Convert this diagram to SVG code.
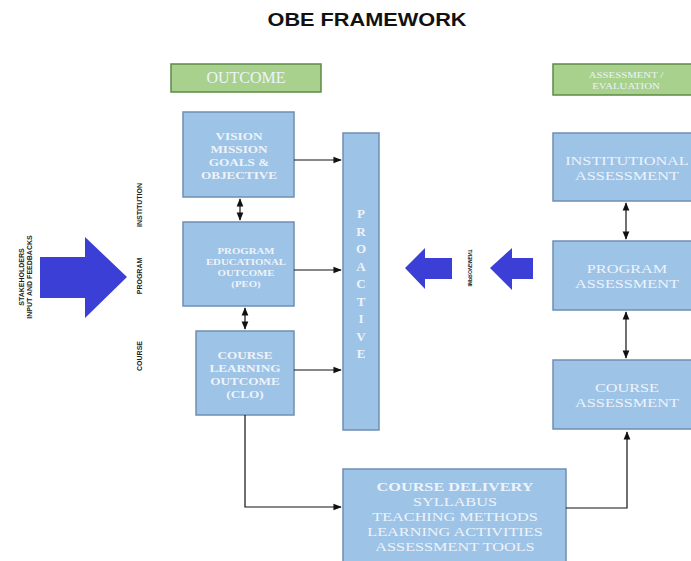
<svg xmlns="http://www.w3.org/2000/svg" width="691" height="561" viewBox="0 0 691 561">
<defs>
<style>
.box{fill:#9dc3e6;stroke:#6f8fb2;stroke-width:1.5}
.gbox{fill:#a9d18e;stroke:#5f8a45;stroke-width:1.5}
.t{font-family:"Liberation Serif",serif;fill:#eef3fa;text-anchor:middle}
.b{font-weight:bold}
.lbl{font-family:"Liberation Sans",sans-serif;font-weight:bold;fill:#222;text-anchor:middle}
.big{fill:#3b3fd6}
.c{fill:none;stroke:#111;stroke-width:1.2}
</style>
<marker id="ah" viewBox="0 0 10 10" refX="9" refY="5" markerWidth="7" markerHeight="7" orient="auto-start-reverse">
<path d="M0,1 L10,5 L0,9 z" fill="#111"/>
</marker>
</defs>
<rect width="691" height="561" fill="#fff"/>
<text x="367" y="26" font-family="Liberation Sans,sans-serif" font-weight="bold" font-size="19" text-anchor="middle" textLength="199" lengthAdjust="spacingAndGlyphs" fill="#111">OBE FRAMEWORK</text>

<g id="stakeholders">
<path class="big" d="M40,257 L85,257 L85,237 L127,277 L85,318 L85,298 L40,298 z"/>
<text class="lbl" font-size="7" transform="translate(24,277) rotate(-90)">STAKEHOLDERS</text>
<text class="lbl" font-size="7" transform="translate(32,277) rotate(-90)">INPUT AND FEEDBACKS</text>
</g>
<g id="levels">
<text class="lbl" font-size="7" transform="translate(142,205) rotate(-90)">INSTITUTION</text>
<text class="lbl" font-size="7" transform="translate(142,276) rotate(-90)">PROGRAM</text>
<text class="lbl" font-size="7" transform="translate(142,356) rotate(-90)">COURSE</text>
</g>

<g id="outcome">
<rect class="gbox" x="171" y="64" width="150" height="28"/>
<text class="t" x="246" y="83" font-size="16">OUTCOME</text>
</g>
<g id="assessment-eval">
<rect class="gbox" x="553" y="64" width="142" height="31"/>
<g transform="translate(626,0) scale(1.2,1) translate(-626,0)">
<text class="t" x="626" y="78" font-size="9">ASSESSMENT /</text>
<text class="t" x="626" y="89" font-size="9">EVALUATION</text>
</g>
</g>

<g id="vision">
<rect class="box" x="183" y="112" width="111" height="85"/>
<g transform="translate(239,0) scale(1.2,1) translate(-239,0)">
<text class="t b" x="239" y="140" font-size="11">VISION</text>
<text class="t b" x="239" y="153" font-size="11">MISSION</text>
<text class="t b" x="239" y="166" font-size="11">GOALS &amp;</text>
<text class="t b" x="239" y="179" font-size="11">OBJECTIVE</text>
</g>
</g>
<g id="peo">
<rect class="box" x="183" y="222" width="111" height="84"/>
<g transform="translate(246,0) scale(1.2,1) translate(-246,0)">
<text class="t b" x="246" y="254" font-size="9">PROGRAM</text>
<text class="t b" x="246" y="265" font-size="9">EDUCATIONAL</text>
<text class="t b" x="246" y="276" font-size="9">OUTCOME</text>
<text class="t b" x="246" y="287" font-size="9">(PEO)</text>
</g>
</g>
<g id="clo">
<rect class="box" x="196" y="331" width="98" height="84"/>
<g transform="translate(245,0) scale(1.2,1) translate(-245,0)">
<text class="t b" x="245" y="359" font-size="11">COURSE</text>
<text class="t b" x="245" y="372" font-size="11">LEARNING</text>
<text class="t b" x="245" y="385" font-size="11">OUTCOME</text>
<text class="t b" x="245" y="398" font-size="11">(CLO)</text>
</g>
</g>
<g id="proactive">
<rect class="box" x="343" y="133" width="36" height="297"/>
<text class="t b" font-size="13" x="361">
<tspan x="361" y="218">P</tspan><tspan x="361" y="235.5">R</tspan><tspan x="361" y="253">O</tspan><tspan x="361" y="270.5">A</tspan><tspan x="361" y="288">C</tspan><tspan x="361" y="305.5">T</tspan><tspan x="361" y="323">I</tspan><tspan x="361" y="340.5">V</tspan><tspan x="361" y="358">E</tspan>
</text>
</g>
<g id="improvement">
<path class="big" d="M452,258 L425,258 L425,248 L405,268 L425,289 L425,279 L452,279 z"/>
<path class="big" d="M533,258 L512,258 L512,248 L490,268 L512,290 L512,279 L533,279 z"/>
<text class="lbl" font-size="5" transform="translate(470,268) rotate(90) scale(-1,1)" dy="2">IMPROVEMENT</text>
</g>
<g id="inst-assess">
<rect class="box" x="553" y="133" width="142" height="68"/>
<g transform="translate(627,0) scale(1.25,1) translate(-627,0)">
<text class="t" x="627" y="165" font-size="13">INSTITUTIONAL</text>
<text class="t" x="627" y="180" font-size="13">ASSESSMENT</text>
</g>
</g>
<g id="prog-assess">
<rect class="box" x="553" y="241" width="142" height="69"/>
<g transform="translate(627,0) scale(1.25,1) translate(-627,0)">
<text class="t" x="627" y="273" font-size="13">PROGRAM</text>
<text class="t" x="627" y="288" font-size="13">ASSESSMENT</text>
</g>
</g>
<g id="course-assess">
<rect class="box" x="553" y="360" width="142" height="69"/>
<g transform="translate(627,0) scale(1.25,1) translate(-627,0)">
<text class="t" x="627" y="392" font-size="13">COURSE</text>
<text class="t" x="627" y="407" font-size="13">ASSESSMENT</text>
</g>
</g>
<g id="delivery">
<rect class="box" x="343" y="469" width="223" height="95"/>
<g transform="translate(455,0) scale(1.25,1) translate(-455,0)">
<text class="t b" x="455" y="491" font-size="13">COURSE DELIVERY</text>
<text class="t" x="455" y="506" font-size="13">SYLLABUS</text>
<text class="t" x="455" y="521" font-size="13">TEACHING METHODS</text>
<text class="t" x="455" y="536" font-size="13">LEARNING ACTIVITIES</text>
<text class="t" x="455" y="551" font-size="13">ASSESSMENT TOOLS</text>
</g>
</g>

<g id="connectors">
<line class="c" x1="294" y1="160" x2="341" y2="160" marker-end="url(#ah)"/>
<line class="c" x1="294" y1="270" x2="341" y2="270" marker-end="url(#ah)"/>
<line class="c" x1="294" y1="370" x2="341" y2="370" marker-end="url(#ah)"/>
<line class="c" x1="240" y1="199" x2="240" y2="220" marker-start="url(#ah)" marker-end="url(#ah)"/>
<line class="c" x1="245" y1="308" x2="245" y2="329" marker-start="url(#ah)" marker-end="url(#ah)"/>
<line class="c" x1="626" y1="203" x2="626" y2="239" marker-start="url(#ah)" marker-end="url(#ah)"/>
<line class="c" x1="626" y1="312" x2="626" y2="358" marker-start="url(#ah)" marker-end="url(#ah)"/>
<polyline class="c" points="245,415 245,507 341,507" marker-end="url(#ah)"/>
<polyline class="c" points="566,508 627,508 627,432" marker-end="url(#ah)"/>
</g>
</svg>
